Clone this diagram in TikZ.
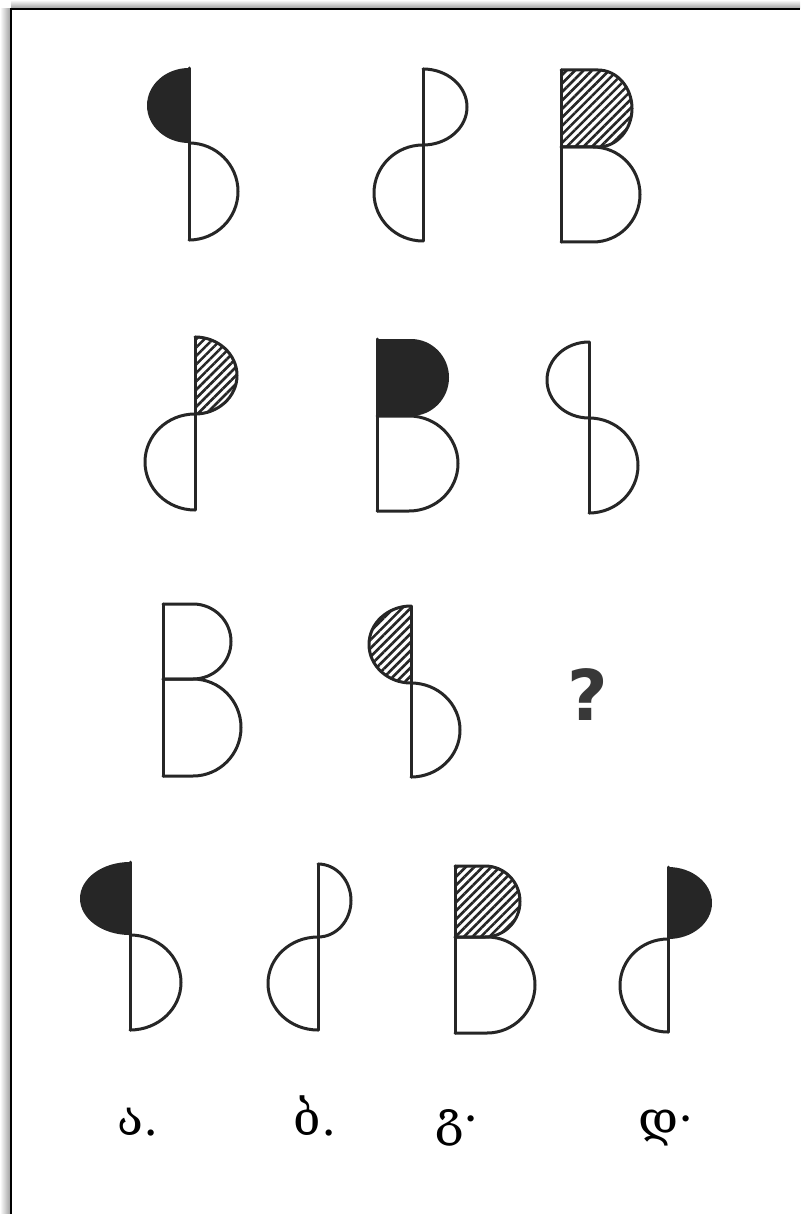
\documentclass[tikz,border=0pt]{standalone}
\usepackage{fontspec}
\usepackage{tikz}
\usetikzlibrary{patterns.meta, positioning}
\newfontfamily\geofont{DejaVu Serif}
\newfontfamily\qmfont{DejaVu Sans}

\begin{document}
\begin{tikzpicture}[
			x=1pt, y=-1pt,
			outline/.style={line width=3pt, draw=black!85, line join=round, line cap=round},
			solid/.style={fill=black!85},
			hatch/.style={pattern={Lines[angle=45, distance=6pt, line width=2.6pt]}, pattern color=black!85},
			label/.style={font=\geofont\fontsize{48}{48}\selectfont, anchor=base}
			]
			
			\useasboundingbox (0,0) rectangle (800,1214);
			
			% --- Frame with shadow ---
			\shade[left color=white, right color=black!40] (0,9) rectangle (11,1214);
			\shade[top color=white, bottom color=black!40] (11,0) rectangle (800,9);
			\draw[line width=2.6pt, black] (11,1214) -- (11,9) -- (800,9);
			
			% --- Row 1 ---
			% figure 1: upper left solid, lower right open
			\fill[solid] (189,68) arc[start angle=-90, end angle=-270, x radius=42, y radius=37.5] -- cycle;
			\draw[outline] (189,143) arc[start angle=-90, end angle=90, x radius=49, y radius=48.5];
			\draw[outline] (189,68) -- (189,240);
			% figure 2: upper right open, lower left open
			\draw[outline] (423,69) arc[start angle=-90, end angle=90, x radius=44, y radius=38];
			\draw[outline] (423,145) arc[start angle=-90, end angle=-270, x radius=49, y radius=48];
			\draw[outline] (423,69) -- (423,241);
			% figure 3: B, upper hatched
			\path[hatch] (561,70) -- (598,70) arc[start angle=-90, end angle=90, x radius=34, y radius=38.5] -- (561,147) -- cycle;
			\draw[outline] (561,70) -- (598,70) arc[start angle=-90, end angle=90, x radius=34, y radius=38.5] -- (561,147);
			\draw[outline] (561,147) -- (593,147) arc[start angle=-90, end angle=90, x radius=47, y radius=47.5] -- (561,242);
			\draw[outline] (561,70) -- (561,242);
			
			% --- Row 2 ---
			% figure 4: upper right hatched, lower left open
			\path[hatch] (195,337) arc[start angle=-90, end angle=90, x radius=42, y radius=38.5] -- cycle;
			\draw[outline] (195,337) arc[start angle=-90, end angle=90, x radius=42, y radius=38.5];
			\draw[outline] (195,414) arc[start angle=-90, end angle=-270, x radius=50, y radius=48];
			\draw[outline] (195,337) -- (195,510);
			% figure 5: B, upper solid
			\fill[solid] (377,339) -- (411,339) arc[start angle=-90, end angle=90, x radius=38, y radius=38.5] -- (377,416) -- cycle;
			\draw[outline] (377,416) -- (409,416) arc[start angle=-90, end angle=90, x radius=49, y radius=47.5] -- (377,511);
			\draw[outline] (377,339) -- (377,511);
			% figure 6: upper left open, lower right open
			\draw[outline] (589,342) arc[start angle=-90, end angle=-270, x radius=42, y radius=38];
			\draw[outline] (589,418) arc[start angle=-90, end angle=90, x radius=49, y radius=47.5];
			\draw[outline] (589,342) -- (589,513);
			
			% --- Row 3 ---
			% figure 7: B, open
			\draw[outline] (163,604) -- (193,604) arc[start angle=-90, end angle=90, x radius=38, y radius=37.5] -- (163,679);
			\draw[outline] (163,679) -- (193,679) arc[start angle=-90, end angle=90, x radius=48, y radius=48.5] -- (163,776);
			\draw[outline] (163,604) -- (163,776);
			% figure 8: upper left hatched, lower right open
			\path[hatch] (411,606) arc[start angle=-90, end angle=-270, x radius=42, y radius=38.5] -- cycle;
			\draw[outline] (411,606) arc[start angle=-90, end angle=-270, x radius=42, y radius=38.5];
			\draw[outline] (411,683) arc[start angle=-90, end angle=90, x radius=49, y radius=47];
			\draw[outline] (411,606) -- (411,777);
			% missing figure
			\node[font=\qmfont\bfseries\fontsize{70}{70}\selectfont, text=black!78] (qm) at (588,695) {?};
			
			% --- Row 4: answers ---
			% answer a
			\fill[solid] (130,862) arc[start angle=-90, end angle=-270, x radius=50, y radius=36.5] -- cycle;
			\draw[outline] (130,935) arc[start angle=-90, end angle=90, x radius=51, y radius=47.5];
			\draw[outline] (130,862) -- (130,1030);
			% answer b
			\draw[outline] (318,864) arc[start angle=-90, end angle=90, x radius=33, y radius=36.5];
			\draw[outline] (318,937) arc[start angle=-90, end angle=-270, x radius=50, y radius=46.5];
			\draw[outline] (318,864) -- (318,1030);
			% answer c
			\path[hatch] (455,866) -- (485,866) arc[start angle=-90, end angle=90, x radius=35, y radius=35.5] -- (455,937) -- cycle;
			\draw[outline] (455,866) -- (485,866) arc[start angle=-90, end angle=90, x radius=35, y radius=35.5] -- (455,937);
			\draw[outline] (455,937) -- (487,937) arc[start angle=-90, end angle=90, x radius=48, y radius=48] -- (455,1033);
			\draw[outline] (455,866) -- (455,1033);
			% answer d
			\fill[solid] (668,867) arc[start angle=-90, end angle=90, x radius=44, y radius=36] -- cycle;
			\draw[outline] (668,939) arc[start angle=-90, end angle=-270, x radius=48, y radius=46.5];
			\draw[outline] (668,867) -- (668,1032);
			
			% --- Labels ---
			\node[label] (la) at (138,1135) {ა.};
			\node[label] (lb) at (315,1135) {ბ.};
			\node[label] (lc) at (457,1135) {გ·};
			\node[label] (ld) at (666,1135) {დ·};
			
			\end{tikzpicture}
\end{document}
